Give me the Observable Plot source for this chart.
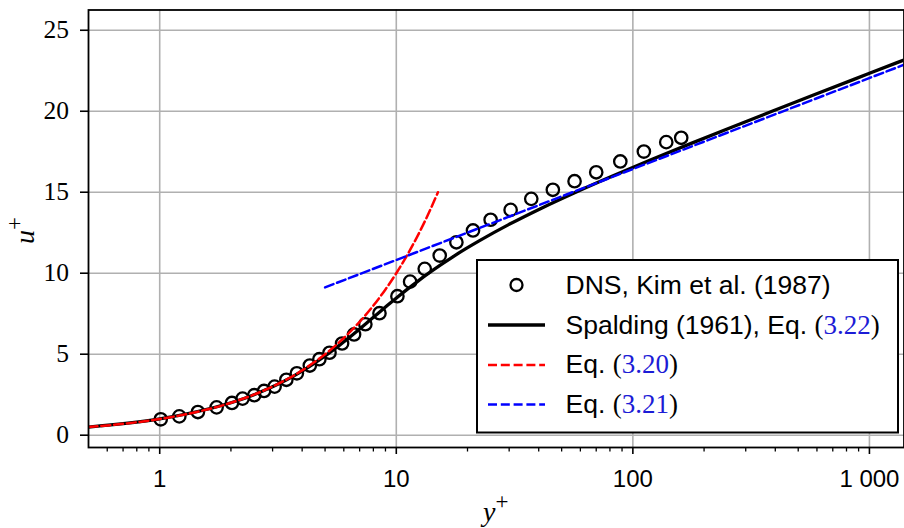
<!DOCTYPE html>
<html><head><meta charset="utf-8">
<script src="https://cdn.jsdelivr.net/npm/d3@7"></script>
<script src="https://cdn.jsdelivr.net/npm/@observablehq/plot@0.6"></script>
<style>
body{margin:0;background:#fff;}
#chart{width:904px;height:528px;}
.serif{font-family:'Liberation Serif','Times New Roman',serif !important;}
</style></head><body><div id="chart"></div>
<script>
// DNS, Kim et al. (1987)
const dnsYplus = [1.01, 1.21, 1.45, 1.74, 2.02, 2.24, 2.51, 2.76, 3.06, 3.43, 3.80, 4.31, 4.73, 5.22, 5.90, 6.63, 7.40, 8.49, 10.11, 11.44, 13.19, 15.26, 17.95, 21.10, 25.05, 30.43, 37.2, 45.9, 56.7, 70.0, 88.5, 111.3, 138.4, 160.1];
const dnsUplus = [0.98, 1.16, 1.43, 1.72, 1.99, 2.26, 2.47, 2.73, 3.00, 3.42, 3.82, 4.30, 4.69, 5.09, 5.66, 6.22, 6.85, 7.53, 8.58, 9.48, 10.27, 11.09, 11.91, 12.64, 13.30, 13.91, 14.59, 15.15, 15.68, 16.23, 16.90, 17.51, 18.09, 18.36];
// Spalding (1961)
const spaldingYplus = [0.5, 1.0001, 2.0023, 3.0131, 4.0456, 5.1238, 5.6915, 6.2871, 6.9192, 7.5988, 8.3390, 9.1572, 10.074, 11.115, 12.313, 13.707, 15.345, 17.287, 19.607, 22.395, 29.848, 40.878, 57.352, 82.077, 119.29, 175.40, 260.01, 387.66, 580.24, 870.7, 1308.8, 1479.4];
const spaldingUplus = [0.5, 1, 2, 3, 4, 5, 5.5, 6, 6.5, 7, 7.5, 8, 8.5, 9, 9.5, 10, 10.5, 11, 11.5, 12, 13, 14, 15, 16, 17, 18, 19, 20, 21, 22, 23, 23.3];
// Eq. (3.20) viscous sublayer
const viscYplus = [0.5, 0.6, 0.7, 0.8, 0.9, 1, 1.2, 1.4, 1.7, 2, 2.5, 3, 3.5, 4, 5, 6, 7, 8, 9, 10, 11, 12, 13, 14, 15];
const viscUplus = [0.5, 0.6, 0.7, 0.8, 0.9, 1, 1.2, 1.4, 1.7, 2, 2.5, 3, 3.5, 4, 5, 6, 7, 8, 9, 10, 11, 12, 13, 14, 15];
// Eq. (3.21) log law
const logYplus = [5, 1400];
const logUplus = [9.125, 22.87];

const xMajor = [1, 10, 100, 1000];
const xMajorLabels = ["1", "10", "100", "1 000"];
const xMinor = [0.6, 0.7, 0.8, 0.9, 2, 3, 4, 5, 6, 7, 8, 9, 20, 30, 40, 50, 60, 70, 80, 90, 200, 300, 400, 500, 600, 700, 800, 900];
const yTicks = [0, 5, 10, 15, 20, 25];
const yTickLabels = ["0", "5", "10", "15", "20", "25"];

const legendLabels = [
  [["DNS, Kim et al. (1987)", "sans", "black"]],
  [["Spalding (1961), Eq. ", "sans", "black"], ["(", "serif", "black"], ["3.22", "serif", "#1c1cd6"], [")", "serif", "black"]],
  [["Eq. ", "sans", "black"], ["(", "serif", "black"], ["3.20", "serif", "#1c1cd6"], [")", "serif", "black"]],
  [["Eq. ", "sans", "black"], ["(", "serif", "black"], ["3.21", "serif", "#1c1cd6"], [")", "serif", "black"]]
];

const dns = dnsYplus.map((y, i) => ({y, u: dnsUplus[i]}));
const spalding = spaldingYplus.map((y, i) => ({y, u: spaldingUplus[i]}));
const visc = viscYplus.map((y, i) => ({y, u: viscUplus[i]}));
const logl = logYplus.map((y, i) => ({y, u: logUplus[i]}));
const xLab = xMajor.map((v, i) => ({v, t: xMajorLabels[i]}));

const SANS = "'Liberation Sans', Arial, Helvetica, sans-serif";
const SERIF = "'Liberation Serif', 'Times New Roman', serif";

const chart = Plot.plot({
  width: 904, height: 528,
  marginLeft: 88, marginRight: 0.5, marginTop: 9.5, marginBottom: 81,
  style: {background: "white", color: "black", overflow: "visible"},
  x: {type: "log", domain: [0.5, 1400]},
  y: {domain: [-0.76, 26.25]},
  marks: [
    Plot.gridX(xMajor, {stroke: "#b0b0b0", strokeOpacity: 1, strokeWidth: 1.6}),
    Plot.gridY(yTicks, {stroke: "#b0b0b0", strokeOpacity: 1, strokeWidth: 1.6}),
    Plot.dot(dns, {x: "y", y: "u", r: 6.2, stroke: "black", strokeWidth: 2.3, fill: "none"}),
    Plot.line(spalding, {x: "y", y: "u", stroke: "black", strokeWidth: 3.3, curve: "catmull-rom", clip: true}),
    Plot.line(visc, {x: "y", y: "u", stroke: "#ff0000", strokeWidth: 2.5, strokeDasharray: "9,3.8", curve: "catmull-rom", clip: true}),
    Plot.line(logl, {x: "y", y: "u", stroke: "#0000ff", strokeWidth: 2.5, strokeDasharray: "9,3.8", clip: true}),
    Plot.axisX(xMajor, {tickSize: 7, strokeWidth: 1.6, label: null, tickFormat: () => ""}),
    Plot.axisX(xMinor, {tickSize: 4.5, strokeWidth: 1.3, label: null, tickFormat: () => ""}),
    Plot.axisY(yTicks, {tickSize: 8, strokeWidth: 1.6, label: null, tickFormat: () => ""}),
    Plot.text(xLab, {x: "v", text: "t", frameAnchor: "bottom", dy: 39, fontFamily: SANS, fontSize: 24, fill: "black", textAnchor: "middle"}),
    Plot.frame({stroke: "black", strokeWidth: 1.8})
  ]
});
document.getElementById("chart").appendChild(chart);

const svg = d3.select(chart);
const ys = chart.scale("y");
// y tick labels (serif)
yTicks.forEach((v, i) => {
  svg.append("text").attr("class", "serif").attr("x", 69).attr("y", ys.apply(v)).attr("dy", "0.34em")
    .attr("text-anchor", "end").style("font-family", SERIF).style("font-size", "25.5px")
    .attr("fill", "black").text(yTickLabels[i]);
});
// axis labels
const yl = svg.append("text").attr("transform", "translate(34,244) rotate(-90)").attr("text-anchor", "start")
  .style("font-family", SERIF).attr("font-style", "italic").attr("font-size", 28).attr("fill", "black");
yl.append("tspan").text("u");
yl.append("tspan").attr("dy", -12).attr("font-size", 23).attr("font-style", "normal").text("+");
const xl = svg.append("text").attr("x", 483).attr("y", 521).attr("text-anchor", "start")
  .style("font-family", SERIF).attr("font-style", "italic").attr("font-size", 28).attr("fill", "black");
xl.append("tspan").text("y");
xl.append("tspan").attr("dy", -12).attr("font-size", 23).attr("font-style", "normal").text("+");

// legend
const lg = svg.append("g");
lg.append("rect").attr("x", 477).attr("y", 260).attr("width", 421).attr("height", 172.5)
  .attr("fill", "white").attr("stroke", "black").attr("stroke-width", 2);
const rowsC = [285, 325, 365, 404.5];
const rowsB = [294, 333.5, 373, 413];
lg.append("circle").attr("cx", 516.5).attr("cy", rowsC[0]).attr("r", 6)
  .attr("fill", "none").attr("stroke", "black").attr("stroke-width", 2.3);
lg.append("line").attr("x1", 488).attr("x2", 545).attr("y1", rowsC[1]).attr("y2", rowsC[1])
  .attr("stroke", "black").attr("stroke-width", 3.3);
lg.append("line").attr("x1", 488).attr("x2", 545).attr("y1", rowsC[2]).attr("y2", rowsC[2])
  .attr("stroke", "#ff0000").attr("stroke-width", 2.5).attr("stroke-dasharray", "9,3.8");
lg.append("line").attr("x1", 488).attr("x2", 545).attr("y1", rowsC[3]).attr("y2", rowsC[3])
  .attr("stroke", "#0000ff").attr("stroke-width", 2.5).attr("stroke-dasharray", "9,3.8");
legendLabels.forEach((parts, i) => {
  const t = lg.append("text").attr("x", 565.5).attr("y", rowsB[i]).attr("text-anchor", "start").attr("font-size", 26.5);
  parts.forEach(([s, f, c]) => {
    t.append("tspan").style("font-family", f === "sans" ? SANS : SERIF)
      .attr("font-size", f === "sans" ? 26.5 : 27).attr("fill", c)
      .style("white-space", "pre").text(s);
  });
});
</script></body></html>
